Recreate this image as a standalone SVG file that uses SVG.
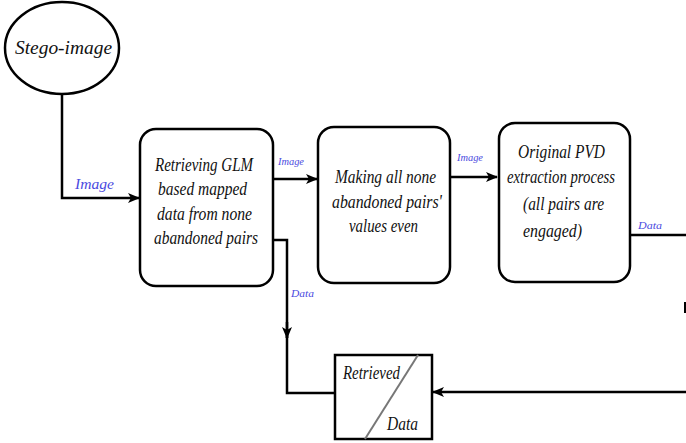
<svg xmlns="http://www.w3.org/2000/svg" width="686" height="443" viewBox="0 0 686 443">
<style>
.box{fill:#fff;stroke:#000;stroke-width:2.5}
.ln{fill:none;stroke:#000;stroke-width:2.5}
.t{font-family:"Liberation Serif",serif;font-style:italic;font-size:19px;fill:#111}
.lb{font-family:"Liberation Serif",serif;font-style:italic;fill:#4a4ae0}
</style>
<defs>
<marker id="ah" viewBox="0 0 12 10" refX="11" refY="5" markerWidth="12" markerHeight="10" markerUnits="userSpaceOnUse" orient="auto">
<path d="M0,0 L12,5 L0,10 L3,5 Z" fill="#000"/>
</marker>
</defs>
<rect width="686" height="443" fill="#fff"/>
<g id="connectors">
<polyline class="ln" points="62,94 62,198 139,198" marker-end="url(#ah)"/>
<line class="ln" x1="273" y1="179" x2="317" y2="179" marker-end="url(#ah)"/>
<line class="ln" x1="450" y1="177" x2="497" y2="177" marker-end="url(#ah)"/>
<line class="ln" x1="630" y1="235" x2="686" y2="235"/>
<polyline class="ln" points="273,240 287,240 287,338"/>
<line class="ln" x1="287" y1="322" x2="287" y2="338" marker-end="url(#ah)"/>
<polyline class="ln" points="287,336 287,393 335,393"/>
<line class="ln" x1="686" y1="392" x2="433" y2="392" marker-end="url(#ah)"/>
<line x1="685" y1="302" x2="685" y2="313" stroke="#000" stroke-width="2"/>
<text class="lb" x="75" y="189" font-size="15" textLength="39" lengthAdjust="spacingAndGlyphs">Image</text>
<text class="lb" x="278" y="165" font-size="10" textLength="26" lengthAdjust="spacingAndGlyphs">Image</text>
<text class="lb" x="457" y="161" font-size="10" textLength="26" lengthAdjust="spacingAndGlyphs">Image</text>
<text class="lb" x="638" y="229" font-size="10" textLength="24" lengthAdjust="spacingAndGlyphs">Data</text>
<text class="lb" x="291" y="297" font-size="10" textLength="23" lengthAdjust="spacingAndGlyphs">Data</text>
</g>
<g id="stego">
<ellipse cx="62" cy="48" rx="57" ry="46" class="box"/>
<text class="t" x="15" y="54" font-size="24" textLength="97" lengthAdjust="spacingAndGlyphs">Stego-image</text>
</g>
<g id="retrieve">
<rect class="box" x="140" y="129" width="133" height="157" rx="16"/>
<text class="t" x="155" y="171" font-size="18" textLength="98" lengthAdjust="spacingAndGlyphs">Retrieving GLM</text>
<text class="t" x="158" y="195" textLength="89" lengthAdjust="spacingAndGlyphs">based mapped</text>
<text class="t" x="157" y="220" textLength="95" lengthAdjust="spacingAndGlyphs">data from none</text>
<text class="t" x="154" y="244" textLength="104" lengthAdjust="spacingAndGlyphs">abandoned pairs</text>
</g>
<g id="making">
<rect class="box" x="318" y="127" width="132" height="156" rx="16"/>
<text class="t" x="335" y="183" textLength="101" lengthAdjust="spacingAndGlyphs">Making all none</text>
<text class="t" x="332" y="208" textLength="110" lengthAdjust="spacingAndGlyphs">abandoned pairs'</text>
<text class="t" x="349" y="232" textLength="69" lengthAdjust="spacingAndGlyphs">values even</text>
</g>
<g id="pvd">
<rect class="box" x="499" y="123" width="131" height="159" rx="16"/>
<text class="t" x="518" y="158" textLength="87" lengthAdjust="spacingAndGlyphs">Original PVD</text>
<text class="t" x="507" y="183" textLength="108" lengthAdjust="spacingAndGlyphs">extraction process</text>
<text class="t" x="523" y="210" textLength="81" lengthAdjust="spacingAndGlyphs">(all pairs are</text>
<text class="t" x="523" y="237" textLength="59" lengthAdjust="spacingAndGlyphs">engaged)</text>
</g>
<g id="retrieved-data">
<rect x="335" y="355" width="97" height="84" fill="#fff" stroke="#000" stroke-width="2.5"/>
<line x1="365" y1="439" x2="418" y2="355" stroke="#777" stroke-width="2"/>
<text class="t" x="343" y="379" font-size="17" textLength="57" lengthAdjust="spacingAndGlyphs">Retrieved</text>
<text class="t" x="387" y="430" font-size="17" textLength="31" lengthAdjust="spacingAndGlyphs">Data</text>
</g>
</svg>
